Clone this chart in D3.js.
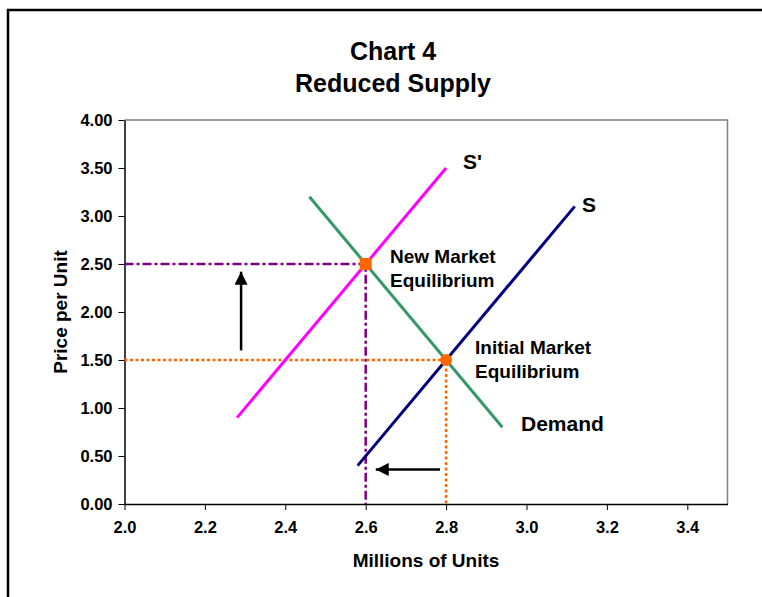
<!DOCTYPE html>
<html>
<head>
<meta charset="utf-8">
<script src="https://cdn.jsdelivr.net/npm/d3@7"></script>
<style>
  html, body { margin: 0; padding: 0; background: #fff; }
  svg { display: block; font-family: "Liberation Sans", Arial, sans-serif; font-weight: bold; }
</style>
</head>
<body>
<svg id="chart" width="762" height="597"></svg>
<script>
// Axis ticks
const xTicks = [2.0, 2.2, 2.4, 2.6, 2.8, 3.0, 3.2, 3.4];
const yTicks = [0, 0.5, 1.0, 1.5, 2.0, 2.5, 3.0, 3.5, 4.0];

// Curves: [quantity (millions), price]
const supplyNew = [[2.28, 0.9], [2.8, 3.5]];      // S'
const supplyOld = [[2.58, 0.4], [3.12, 3.1]];     // S
const demand    = [[2.46, 3.2], [2.94, 0.8]];     // Demand

// Equilibria
const newEq  = [2.6, 2.5];
const initEq = [2.8, 1.5];

// Shift arrows: [from, to]
const arrowUp   = [[2.29, 1.6], [2.29, 2.42]];
const arrowLeft = [[2.785, 0.36], [2.625, 0.36]];

const svg = d3.select("#chart");

// Outer frame
svg.append("rect")
  .attr("x", 8).attr("y", 10).attr("width", 800).attr("height", 700)
  .attr("fill", "none").attr("stroke", "#000").attr("stroke-width", 2.5);

// Title
const title = svg.append("text").attr("text-anchor", "middle").attr("font-size", 25).attr("fill", "#000");
title.append("tspan").attr("x", 393).attr("y", 60).text("Chart 4");
title.append("tspan").attr("x", 393).attr("y", 92).text("Reduced Supply");

const x = d3.scaleLinear().domain([2.0, 3.5]).range([124.5, 727.5]);
const y = d3.scaleLinear().domain([0, 4]).range([504, 120]);

// Plot area outline (top/right)
svg.append("path")
  .attr("d", `M${x(2.0)},${y(4)}H${x(3.5)}V${y(0)}`)
  .attr("fill", "none").attr("stroke", "#808080").attr("stroke-width", 1.5);

// Axes
const xAxis = svg.append("g").attr("transform", `translate(0,${y(0)})`)
  .call(d3.axisBottom(x).tickValues(xTicks).tickSize(6).tickSizeOuter(0).tickPadding(11)
    .tickFormat(d3.format(".1f")));
const yAxis = svg.append("g").attr("transform", `translate(${x(2.0)},0)`)
  .call(d3.axisLeft(y).tickValues(yTicks).tickSize(6).tickSizeOuter(0).tickPadding(6)
    .tickFormat(d3.format(".2f")));
[xAxis, yAxis].forEach(g => {
  g.select(".domain").attr("stroke", "#000").attr("stroke-width", 1.5);
  g.selectAll(".tick line").attr("stroke", "#000").attr("stroke-width", 1);
  g.selectAll(".tick text").attr("font-size", 16.5).attr("font-weight", "bold")
    .attr("font-family", "'Liberation Sans', Arial, sans-serif").attr("fill", "#000");
});

// Axis titles
svg.append("text").attr("x", 426).attr("y", 567).attr("text-anchor", "middle")
  .attr("font-size", 19).text("Millions of Units");
svg.append("text").attr("transform", "translate(67,312) rotate(-90)").attr("text-anchor", "middle")
  .attr("font-size", 19).text("Price per Unit");

const line = d3.line().x(d => x(d[0])).y(d => y(d[1]));

// Guide lines to the axes
svg.append("path")
  .attr("d", line([[2.0, newEq[1]], newEq, [newEq[0], 0]]))
  .attr("fill", "none").attr("stroke", "#800080").attr("stroke-width", 2.5)
  .attr("stroke-dasharray", "9,3,3,3");
svg.append("path")
  .attr("d", line([[2.0, initEq[1]], initEq, [initEq[0], 0]]))
  .attr("fill", "none").attr("stroke", "#FF6600").attr("stroke-width", 2.5)
  .attr("stroke-dasharray", "3,2.5");

// Curves
svg.append("path").attr("d", line(supplyNew)).attr("fill", "none")
  .attr("stroke", "#FF00FF").attr("stroke-width", 3);
svg.append("path").attr("d", line(supplyOld)).attr("fill", "none")
  .attr("stroke", "#000080").attr("stroke-width", 3);
svg.append("path").attr("d", line(demand)).attr("fill", "none")
  .attr("stroke", "#339966").attr("stroke-width", 3);

// Equilibrium markers
svg.append("rect")
  .attr("x", x(newEq[0]) - 6).attr("y", y(newEq[1]) - 6)
  .attr("width", 12).attr("height", 12).attr("fill", "#FF6600");
svg.append("circle")
  .attr("cx", x(initEq[0])).attr("cy", y(initEq[1])).attr("r", 6)
  .attr("fill", "#FF6600");

// Arrows
const defs = svg.append("defs");
defs.append("marker")
  .attr("id", "head").attr("viewBox", "0 0 10 10").attr("refX", 10).attr("refY", 5)
  .attr("markerUnits", "userSpaceOnUse").attr("markerWidth", 14).attr("markerHeight", 13)
  .attr("orient", "auto")
  .append("path").attr("d", "M0,0L10,5L0,10Z").attr("fill", "#000");
[arrowUp, arrowLeft].forEach(a => {
  svg.append("path").attr("d", line(a)).attr("fill", "none")
    .attr("stroke", "#000").attr("stroke-width", 2.5).attr("marker-end", "url(#head)");
});

// Labels
const label = (tx, ty, lines, size) => {
  const t = svg.append("text").attr("font-size", size).attr("fill", "#000");
  lines.forEach((s, i) => t.append("tspan").attr("x", tx).attr("y", ty + i * 23.5).text(s));
};
label(463, 169, ["S'"], 21);
label(582, 212, ["S"], 21);
label(521, 431, ["Demand"], 21);
label(390, 263, ["New Market", "Equilibrium"], 19);
label(475, 354, ["Initial Market", "Equilibrium"], 19);
</script>
</body>
</html>
